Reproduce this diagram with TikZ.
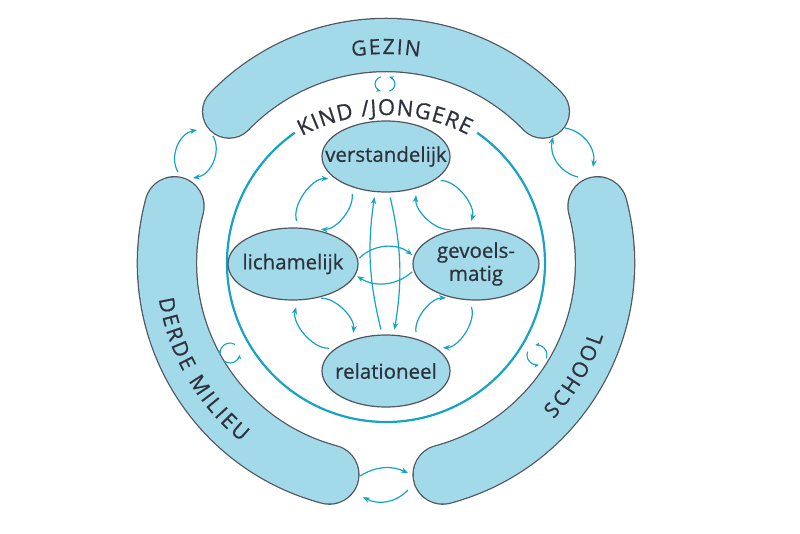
\documentclass[tikz,border=0pt]{standalone}
\usepackage{fontspec}
\setmainfont{Open Sans}[FakeBold=0.6]
\usetikzlibrary{shapes.geometric,arrows.meta,decorations.text}
\definecolor{bandfill}{RGB}{162,218,233}
\definecolor{edgecol}{RGB}{80,85,95}
\definecolor{tealc}{RGB}{22,163,196}
\definecolor{txt}{RGB}{45,50,60}
\begin{document}
\begin{tikzpicture}[x=1pt,y=1pt,
  ell/.style={ellipse, draw=edgecol, fill=bandfill, line width=1.2pt, inner sep=0pt},
  lbl/.style={text=txt, font=\fontsize{20.5}{23}\selectfont, inner sep=0pt},
  arr/.style={draw=tealc, line width=1.2pt, -{Stealth[length=7pt,width=5.5pt]}},
  inarr/.style={arr, shorten <=7pt, shorten >=7pt},
  smallarr/.style={draw=tealc, line width=1.1pt, -{Stealth[length=4.5pt,width=4pt]}},
  bandout/.style={draw=edgecol, line width=#1, line cap=round},
  bandin/.style={draw=bandfill, line width=#1, line cap=round},
  bandtext/.style={decorate, decoration={text along path, text={|\fontsize{21}{22}\selectfont|#1}, text align={fit to path}, text color=txt}},
]
\fill[white] (-386,-270) rectangle (414,263);
\useasboundingbox (-386,-270) rectangle (414,263);

% outer bands
\draw[bandout=54.5pt] (44:218) arc[start angle=44,end angle=136,radius=218];
\draw[bandin=52pt] (44:218) arc[start angle=44,end angle=136,radius=218];
\draw[bandout=60.5pt] (165:219) arc[start angle=165,end angle=255,radius=219];
\draw[bandin=58pt] (165:219) arc[start angle=165,end angle=255,radius=219];
\draw[bandout=60.5pt] (-75:219) arc[start angle=-75,end angle=15,radius=219];
\draw[bandin=58pt] (-75:219) arc[start angle=-75,end angle=15,radius=219];

% band texts
\path[bandtext=GEZIN] (99.3:209) arc[start angle=99.3,end angle=80.7,radius=209];
\path[bandtext=DERDE MILIEU] (189:230) arc[start angle=189,end angle=231,radius=230];
\path[bandtext=SCHOOL] (-43:229) arc[start angle=-43,end angle=-18.5,radius=229];

% inner circle
\draw[tealc, line width=2.2pt] (125:159) arc[start angle=125,end angle=415,radius=159];
\path[decorate, decoration={text along path, text={|\fontsize{22}{23}\selectfont|KIND /JONGERE}, text align={fit to path}, text color=txt}]
  ([shift={(0,-30)}]118.2:178) arc[start angle=118.2,end angle=62.6,radius=178];

% ellipses
\node[ell, minimum width=128pt, minimum height=71pt, label={[lbl]center:verstandelijk}] (verst) at (0,106.5) {};
\node[ell, minimum width=130pt, minimum height=72pt, label={[lbl]center:lichamelijk}] (lich) at (-93,-1) {};
\node[ell, minimum width=126pt, minimum height=72pt, label={[lbl,align=center]center:gevoels-\\matig}] (gev) at (90,-1) {};
\node[ell, minimum width=128pt, minimum height=72pt, label={[lbl]center:relationeel}] (rel) at (0,-108) {};

% inner arrows
\draw[inarr] (lich.81) to[bend left=55] (verst.204);
\draw[inarr] (verst.221) to[bend left=50] (lich.59);
\draw[inarr] (verst.333) to[bend left=55] (gev.101);
\draw[inarr] (gev.118) to[bend left=50] (verst.314);
\draw[inarr] (rel.155) to[bend left=55] (lich.278);
\draw[inarr] (lich.301) to[bend left=50] (rel.137);
\draw[inarr] (rel.46) to[bend left=50] (gev.236);
\draw[inarr] (gev.259) to[bend left=55] (rel.25);
\draw[arr, shorten <=2pt, shorten >=2pt] (lich.4) to[bend left=42] (gev.173);
\draw[arr, shorten <=2pt, shorten >=2pt] (gev.186) to[bend left=38] (lich.350);
\draw[arr, shorten <=5pt, shorten >=5pt] (rel.96) to[bend left=11] (verst.253);
\draw[arr, shorten <=5pt, shorten >=5pt] (verst.275) to[bend left=11] (rel.78);

% arrows between bands
\coordinate (gdA1) at (-208,91);  \coordinate (gdA2) at (-189,133);
\coordinate (gdB1) at (-173,127); \coordinate (gdB2) at (-193,85);
\coordinate (gsA1) at (179,135);  \coordinate (gsA2) at (207,96);
\coordinate (gsB1) at (192,86);   \coordinate (gsB2) at (167,126);
\coordinate (dsA1) at (-26,-213); \coordinate (dsA2) at (22,-210);
\coordinate (dsB1) at (22,-227);  \coordinate (dsB2) at (-23,-234);
\draw[arr] (gdA1) to[bend left=55] (gdA2);
\draw[arr] (gdB1) to[bend left=55] (gdB2);
\draw[arr] (gsA1) to[bend left=45] (gsA2);
\draw[arr] (gsB1) to[bend left=45] (gsB2);
\draw[arr] (dsA1) to[bend left=28] (dsA2);
\draw[arr] (dsB1) to[bend left=37] (dsB2);

% small loops
\coordinate (lt) at (-1,179);
\coordinate (ll) at (-156,-90);
\coordinate (lr) at (151,-92);
\draw[smallarr] ([shift={(115:10 and 8)}]lt) arc[start angle=115,end angle=245,x radius=10,y radius=8];
\draw[smallarr] ([shift={(-65:10 and 8)}]lt) arc[start angle=-65,end angle=65,x radius=10,y radius=8];
\draw[smallarr] ([shift={(60:10)}]ll) arc[start angle=60,end angle=190,radius=10];
\draw[smallarr] ([shift={(230:10)}]ll) arc[start angle=230,end angle=350,radius=10];
\draw[smallarr] ([shift={(-20:10)}]lr) arc[start angle=-20,end angle=100,radius=10];
\draw[smallarr] ([shift={(160:10)}]lr) arc[start angle=160,end angle=280,radius=10];
\end{tikzpicture}
\end{document}
